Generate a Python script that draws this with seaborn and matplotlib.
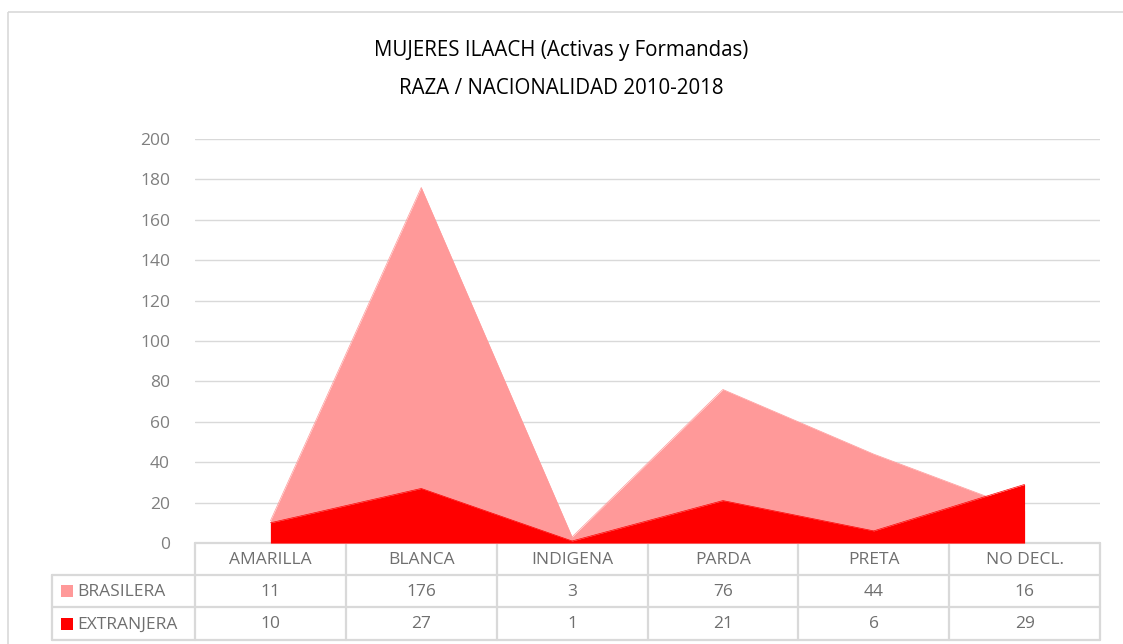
import matplotlib
matplotlib.use("Agg")
import matplotlib.pyplot as plt
import seaborn as sns
import pandas as pd
from matplotlib.patches import Rectangle

categories = ["AMARILLA", "BLANCA", "INDIGENA", "PARDA", "PRETA", "NO DECL."]
brasilera = [11, 176, 3, 76, 44, 16]
extranjera = [10, 27, 1, 21, 6, 29]
series_names = ["BRASILERA", "EXTRANJERA"]
series_colors = ["#FF9999", "#FF0000"]
yticks = [0, 20, 40, 60, 80, 100, 120, 140, 160, 180, 200]
title_lines = ["MUJERES ILAACH (Activas y Formandas)", "RAZA / NACIONALIDAD 2010-2018"]

sns.set_theme(style="white")
plt.rcParams["font.family"] = ["Open Sans", "DejaVu Sans"]

W, H = 1123, 644
fig = plt.figure(figsize=(W / 100, H / 100), dpi=100)

# pixel-space overlay axes
ov = fig.add_axes([0, 0, 1, 1])
ov.set_xlim(0, W)
ov.set_ylim(H, 0)
ov.axis("off")
ov.add_patch(Rectangle((8, 12), W + 20, H + 20, fill=False, edgecolor="#D9D9D9", lw=1.2))

# plot area
px_l, px_r, px_t, px_b = 195, 1100, 139, 543
ax = fig.add_axes([px_l / W, 1 - px_b / H, (px_r - px_l) / W, (px_b - px_t) / H])
df = pd.DataFrame({"cat": categories, "x": range(len(categories)),
                   "BRASILERA": brasilera, "EXTRANJERA": extranjera})
long = df.melt(id_vars=["cat", "x"], value_vars=series_names, var_name="serie", value_name="v")
for k, (name, col) in enumerate(zip(series_names, series_colors)):
    sub = long[long["serie"] == name]
    ax.fill_between(sub["x"], 0, sub["v"], color=col, lw=0, zorder=2 + k)
    sns.lineplot(data=sub, x="x", y="v", ax=ax, color=col, lw=0.5, zorder=2.5 + k, legend=False)
ax.set_xlim(-0.5, len(categories) - 0.5)
ax.set_ylim(0, 200)
ax.set_yticks(yticks)
ax.set_yticklabels([str(t) for t in yticks], fontsize=12.5, color="#7F7F7F")
ax.tick_params(axis="y", length=0, pad=18)
ax.set_xticks([])
ax.set_xlabel("")
ax.set_ylabel("")
ax.grid(axis="y", color="#D9D9D9", lw=1.0, zorder=0)
ax.set_axisbelow(True)
for s in ax.spines.values():
    s.set_visible(False)
ax.patch.set_alpha(0)

# title
ov.text(W / 2, 50, title_lines[0], ha="center", va="center", fontsize=14.8, color="black")
ov.text(W / 2, 88, title_lines[1], ha="center", va="center", fontsize=14.8, color="black")

# data table
gc = "#D9D9D9"
lw = 1.6
col_w = (px_r - px_l) / len(categories)
row_tops = [543, 575, 607, 640]
lab_l = 52
ov.plot([px_l, px_r], [row_tops[0], row_tops[0]], color=gc, lw=lw)
for y in row_tops[1:]:
    ov.plot([lab_l, px_r], [y, y], color=gc, lw=lw)
ov.plot([lab_l, lab_l], [row_tops[1], row_tops[3]], color=gc, lw=lw)
for i in range(len(categories) + 1):
    x = px_l + i * col_w
    ov.plot([x, x], [row_tops[0], row_tops[3]], color=gc, lw=lw)

tc = "#6F6F6F"
fs = 12.5
for i, c in enumerate(categories):
    xc = px_l + (i + 0.5) * col_w
    ov.text(xc, (row_tops[0] + row_tops[1]) / 2 + 1, c, ha="center", va="center", fontsize=fs, color=tc)
    ov.text(xc, (row_tops[1] + row_tops[2]) / 2 + 1, str(brasilera[i]), ha="center", va="center", fontsize=fs, color=tc)
    ov.text(xc, (row_tops[2] + row_tops[3]) / 2 + 1, str(extranjera[i]), ha="center", va="center", fontsize=fs, color=tc)
for r, (name, col) in enumerate(zip(series_names, series_colors)):
    yc = (row_tops[r + 1] + row_tops[r + 2]) / 2
    ov.add_patch(Rectangle((61, yc - 6), 12, 12, color=col, lw=0))
    ov.text(77, yc + 1, name, ha="left", va="center", fontsize=fs, color=tc)

fig.savefig("out.png", dpi=100)
